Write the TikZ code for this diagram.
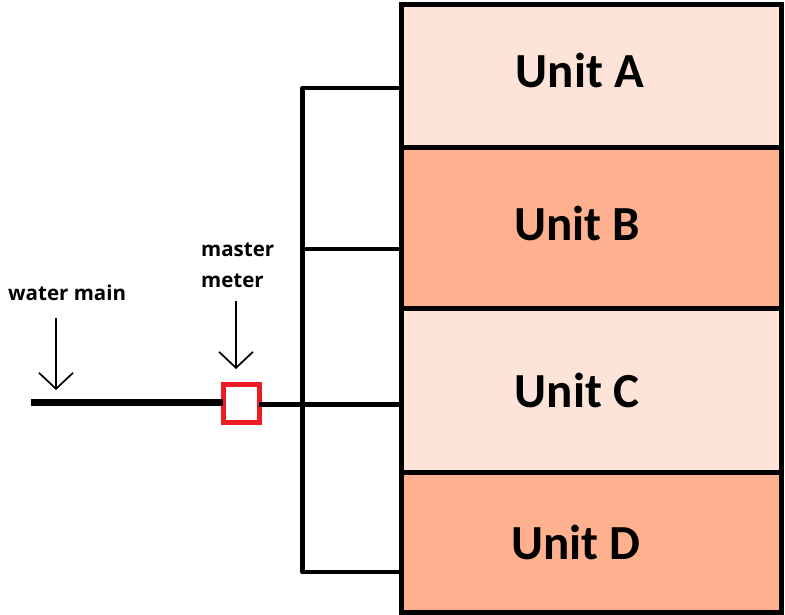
\documentclass[tikz,border=0pt]{standalone}
\usepackage{fontspec}
\setmainfont{Carlito}
\newfontfamily\labelfont{Open Sans}
\usetikzlibrary{arrows.meta}
\definecolor{unitlight}{HTML}{FEE4D8}
\definecolor{unitdark}{HTML}{FFB18F}
\definecolor{meterred}{HTML}{ED1C24}
\tikzset{
  x=1pt,y=-1pt,
  unitbox/.style={draw=black,line width=5pt,outer sep=0pt,minimum width=380pt,inner sep=0pt,anchor=north west},
  unittext/.style={font=\fontsize{49}{49}\selectfont\bfseries,text=black},
  pipe/.style={draw=black,line width=4.6pt},
  mainpipe/.style={draw=black,line width=7pt},
  pointer/.style={draw=black,line width=1.7pt,-{Straight Barb[length=16pt,width=34pt,line width=1.7pt]}},
  tag/.style={font=\labelfont\fontsize{20.5}{31}\selectfont\bfseries,text=black,inner sep=0pt,align=left},
  meterbox/.style={draw=meterred,line width=5pt,outer sep=0pt,minimum width=36pt,minimum height=38pt,inner sep=0pt}
}
\begin{document}
\begin{tikzpicture}
\useasboundingbox (0,0) rectangle (785,615);
\node[unitbox,fill=unitlight,minimum height=143pt] (A) at (401,5) {};
\node[unitbox,fill=unitdark,minimum height=160pt] (B) at (401,148) {};
\node[unitbox,fill=unitlight,minimum height=164pt] (C) at (401,308) {};
\node[unitbox,fill=unitdark,minimum height=140pt] (D) at (401,472) {};
\node[unittext] (ta) at (580,70) {Unit A};
\node[unittext] (tb) at (577,223) {Unit B};
\node[unittext] (tc) at (577,390) {Unit C};
\node[unittext] (td) at (576,542) {Unit D};
\coordinate (jA) at (302.5,88);
\coordinate (jB) at (302.5,249);
\coordinate (jC) at (302.5,404.5);
\coordinate (jD) at (302.5,572);
\coordinate (pA) at (401,88);
\coordinate (pB) at (401,249);
\coordinate (pC) at (403,404.5);
\coordinate (pD) at (401,572);
\coordinate (mainstart) at (31,402.5);
\node[meterbox] (meter) at (241,403) {};
\draw[pipe,line cap=round,line join=round] (pA) -- (jA) -- (jD) -- (pD);
\draw[pipe] (jB) -- (pB);
\draw[pipe] (meter.east |- jC) -- (jC) -- (pC);
\draw[mainpipe] (mainstart) -- (meter.west |- mainstart);
\node[tag,anchor=west] (wm) at (8,293) {water main};
\node[tag,anchor=west] (mm) at (201,265) {master\\meter};
\coordinate (wm1) at (56,318);
\coordinate (wm2) at (56,390);
\coordinate (mm1) at (236,301);
\coordinate (mm2) at (236,369);
\draw[pointer] (wm1) -- (wm2);
\draw[pointer] (mm1) -- (mm2);
\end{tikzpicture}
\end{document}
